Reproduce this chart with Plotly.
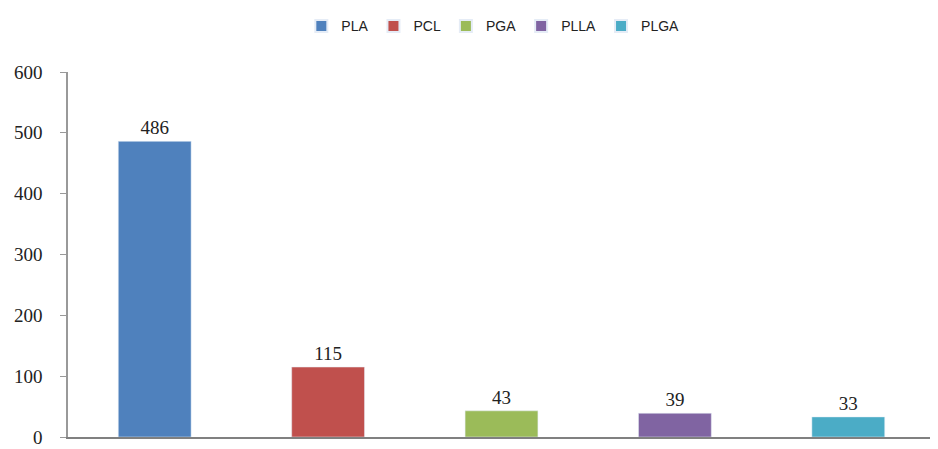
import plotly.graph_objects as go

names = ["PLA", "PCL", "PGA", "PLLA", "PLGA"]
values = [486, 115, 43, 39, 33]
colors = ["#4F81BD", "#C0504D", "#9BBB59", "#8064A2", "#4BACC6"]
yticks = [0, 100, 200, 300, 400, 500, 600]

fig = go.Figure()
for n, v, c in zip(names, values, colors):
    fig.add_trace(go.Bar(
        x=[n], y=[v], name=n, marker_color=c, width=0.42,
        text=[str(v)], textposition="outside",
        textfont=dict(family="Liberation Serif", size=19, color="#222"),
        cliponaxis=False,
    ))

fig.update_layout(
    width=930, height=441,
    margin=dict(l=60, r=3, t=64, b=12, autoexpand=False),
    paper_bgcolor="white", plot_bgcolor="white",
    barmode="overlay",
    showlegend=True,
    legend=dict(orientation="h", x=0.49, xanchor="center", y=1.125, yanchor="middle",
                font=dict(family="Liberation Sans", size=14, color="#222"),
                itemwidth=30, itemsizing="constant"),
    xaxis=dict(showticklabels=False, showline=True, linecolor="#808080", linewidth=2,
               ticks="", showgrid=False, categoryorder="array", categoryarray=names,
               automargin=False),
    yaxis=dict(range=[0, 600], tickvals=yticks, showline=True, linecolor="#999", linewidth=1.5,
               ticks="outside", ticklen=6, tickcolor="#999", showgrid=False, zeroline=False,
               ticklabelstandoff=14, automargin=False, ticklabeloverflow="allow",
               tickfont=dict(family="Liberation Serif", size=19, color="#222")),
)
fig.write_html("out.html")
